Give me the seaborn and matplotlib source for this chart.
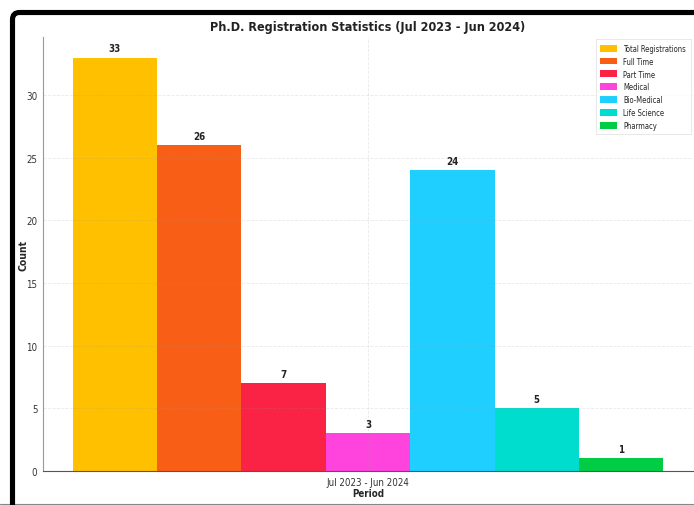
import matplotlib
matplotlib.use("Agg")
import matplotlib.pyplot as plt
from matplotlib.patches import FancyBboxPatch
from matplotlib.lines import Line2D
import seaborn as sns
import pandas as pd

period = "Jul 2023 - Jun 2024"
categories = ["Total Registrations", "Full Time", "Part Time", "Medical",
              "Bio-Medical", "Life Science", "Pharmacy"]
counts = [33, 26, 7, 3, 24, 5, 1]
colors = ["#FFC000", "#F95E17", "#FA2345", "#FF44DD", "#1ECFFF", "#00DDCE", "#00CC44"]

df = pd.DataFrame({"Period": [period] * len(categories),
                   "Category": categories, "Count": counts})

sns.set_theme(style="white")
plt.rcParams["font.family"] = ["DejaVu Sans"]
plt.rcParams["font.stretch"] = "condensed"
plt.rcParams["axes.axisbelow"] = "line"

fig = plt.figure(figsize=(6.94, 5.06), dpi=100)
fig.patch.set_facecolor("white")
ax = fig.add_axes([43 / 694, 34 / 506, 650 / 694, 434 / 506])

sns.barplot(data=df, x="Period", y="Count", hue="Category", hue_order=categories,
            palette=colors, width=0.909, saturation=1, linewidth=0, ax=ax, legend=True)
ax.set_xlim(-0.5, 0.5)
ax.set_ylim(0, 34.65)
ax.set_yticks([0, 5, 10, 15, 20, 25, 30])

for cont in ax.containers:
    ax.bar_label(cont, fmt="%d", padding=3, fontsize=7, fontweight="bold", color="#222222")

ax.grid(True, linestyle="--", linewidth=0.6, alpha=0.2, color="#999999")
ax.set_title("Ph.D. Registration Statistics (Jul 2023 - Jun 2024)", fontsize=9,
             fontweight="bold", color="#222222", pad=5)
ax.set_xlabel("Period", fontsize=7, fontweight="bold", labelpad=1)
ax.set_ylabel("Count", fontsize=7.5, fontweight="bold")
ax.yaxis.set_label_coords(-0.022, 0.5)
ax.tick_params(axis="both", labelsize=7, colors="#333333", length=2.5, width=0.6, pad=1.5)
ax.tick_params(axis="both", color="#555555")

for s in ["top", "right"]:
    ax.spines[s].set_visible(False)
ax.spines["left"].set_color("#999999")
ax.spines["left"].set_linewidth(0.8)
ax.spines["bottom"].set_color("#555555")
ax.spines["bottom"].set_linewidth(0.8)

leg = ax.legend(loc="upper right", fontsize=5.5, frameon=True, fancybox=False,
                edgecolor="#dddddd", handlelength=2.2, handleheight=1.0,
                labelspacing=0.5, borderpad=0.6, borderaxespad=0.3)
leg.get_frame().set_linewidth(0.6)

# screenshot frame
frame = FancyBboxPatch((12.5, -20), 900, 512.5, boxstyle="round,pad=0,rounding_size=7",
                       transform=None, facecolor="none", edgecolor="black",
                       linewidth=3.7, zorder=10)
fig.patches.append(frame)
fig.add_artist(Line2D([0, 1], [1.2 / 506, 1.2 / 506], transform=fig.transFigure,
                      color="#888888", linewidth=0.8))

fig.savefig("out.png", dpi=100)
